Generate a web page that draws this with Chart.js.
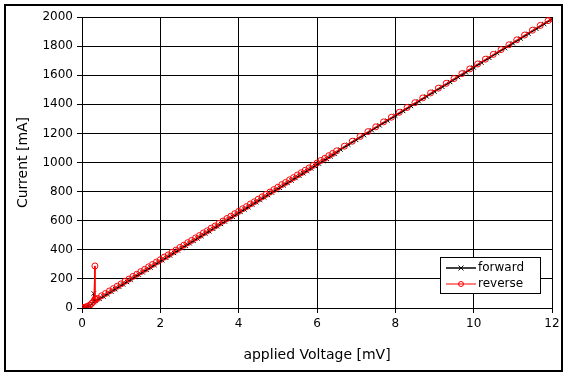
<!DOCTYPE html>
<html>
<head>
<meta charset="utf-8">
<script src="https://cdn.jsdelivr.net/npm/chart.js@4"></script>
<style>
  html, body { margin: 0; padding: 0; background: #fff; }
  #wrap { width: 569px; height: 378px; }
</style>
</head>
<body>
<div id="wrap"><canvas id="ivChart" width="569" height="378"></canvas></div>
<script>
// data
const seriesNames = ['forward', 'reverse'];
const xTicks = [0, 2, 4, 6, 8, 10, 12];
const yTicks = [0, 200, 400, 600, 800, 1000, 1200, 1400, 1600, 1800, 2000];

const fwdVoltage = [0, 0.05, 0.1, 0.15, 0.2, 0.25, 0.3, 0.3, 0.32, 0.35,
  0.45, 0.55, 0.65, 0.75, 0.85, 0.95, 1.05, 1.15, 1.25, 1.35,
  1.45, 1.55, 1.65, 1.75, 1.85, 1.95, 2.05, 2.15, 2.25, 2.35,
  2.45, 2.55, 2.65, 2.75, 2.85, 2.95, 3.05, 3.15, 3.25, 3.35,
  3.45, 3.55, 3.65, 3.75, 3.85, 3.95, 4.05, 4.15, 4.25, 4.35,
  4.45, 4.55, 4.65, 4.75, 4.85, 4.95, 5.05, 5.15, 5.25, 5.35,
  5.45, 5.55, 5.65, 5.75, 5.85, 5.95, 6.05, 6.15, 6.25, 6.35, 6.45,
  6.6, 6.8, 7.0, 7.2, 7.4, 7.6, 7.8, 8.0, 8.2, 8.4, 8.6, 8.8, 9.0, 9.2,
  9.4, 9.6, 9.8, 10.0, 10.2, 10.4, 10.6, 10.8, 11.0, 11.2, 11.4, 11.6, 11.8, 12.0];
const fwdCurrent = [0, 3, 6, 10, 17, 28, 40, 100, 48, 52,
  63, 79, 96, 112, 129, 146, 162, 179, 195, 212,
  229, 245, 262, 278, 295, 312, 328, 345, 361, 378,
  395, 411, 428, 444, 461, 478, 494, 511, 527, 544,
  561, 577, 594, 610, 627, 644, 660, 677, 693, 710,
  727, 743, 760, 776, 793, 810, 826, 843, 859, 876,
  893, 909, 926, 942, 959, 976, 992, 1009, 1025, 1042, 1059,
  1089, 1122, 1155, 1188, 1222, 1255, 1288, 1321, 1354, 1388, 1421, 1454, 1487, 1520,
  1553, 1587, 1620, 1653, 1686, 1719, 1753, 1786, 1819, 1852, 1885, 1919, 1952, 1985];

const revVoltage = [0, 0.05, 0.1, 0.15, 0.2, 0.25, 0.3, 0.33, 0.33, 0.35,
  0.4, 0.5, 0.6, 0.7, 0.8, 0.9, 1.0, 1.1, 1.2, 1.3,
  1.4, 1.5, 1.6, 1.7, 1.8, 1.9, 2.0, 2.1, 2.2, 2.3,
  2.4, 2.5, 2.6, 2.7, 2.8, 2.9, 3.0, 3.1, 3.2, 3.3,
  3.4, 3.5, 3.6, 3.7, 3.8, 3.9, 4.0, 4.1, 4.2, 4.3,
  4.4, 4.5, 4.6, 4.7, 4.8, 4.9, 5.0, 5.1, 5.2, 5.3,
  5.4, 5.5, 5.6, 5.7, 5.8, 5.9, 6.0, 6.1, 6.2, 6.3, 6.4, 6.5,
  6.7, 6.9, 7.1, 7.3, 7.5, 7.7, 7.9, 8.1, 8.3, 8.5, 8.7, 8.9, 9.1, 9.3,
  9.5, 9.7, 9.9, 10.1, 10.3, 10.5, 10.7, 10.9, 11.1, 11.3, 11.5, 11.7, 11.9, 12.0];
const revCurrent = [0, 4, 8, 12, 20, 32, 46, 289, 62, 58,
  66, 84, 100, 117, 133, 150, 166, 184, 199, 217,
  232, 250, 266, 283, 299, 316, 332, 350, 365, 383,
  398, 416, 432, 449, 465, 482, 498, 516, 531, 549,
  564, 582, 598, 615, 631, 648, 664, 682, 697, 715,
  730, 748, 764, 781, 797, 814, 830, 848, 863, 881,
  896, 914, 930, 947, 963, 980, 996, 1014, 1029, 1047, 1062, 1080,
  1112, 1146, 1179, 1212, 1245, 1279, 1311, 1345, 1378, 1411, 1444, 1478, 1511, 1544,
  1577, 1611, 1643, 1677, 1710, 1743, 1776, 1809, 1843, 1876, 1909, 1942, 1975, 1990];

function toPoints(xs, ys) {
    return xs.map(function (v, i) { return { x: v, y: ys[i] }; });
}

const fontFamily = '"DejaVu Sans", sans-serif';

// frame round the whole chart and the legend box inside the plot
const framePlugin = {
    id: 'frame',
    afterDraw: function (chart) {
        const ctx = chart.ctx;
        ctx.save();
        ctx.strokeStyle = '#000';
        ctx.lineWidth = 2;
        ctx.strokeRect(5, 5, 557, 366);

        // legend
        const lx = 440, ly = 257, lw = 100, lh = 36;
        ctx.fillStyle = '#fff';
        ctx.fillRect(lx, ly, lw, lh);
        ctx.lineWidth = 1;
        ctx.strokeRect(lx + 0.5, ly + 0.5, lw, lh);
        ctx.font = '12px ' + fontFamily;
        ctx.textBaseline = 'middle';
        chart.data.datasets.forEach(function (ds, i) {
            const y = ly + 11 + i * 16;
            ctx.strokeStyle = ds.borderColor;
            ctx.lineWidth = ds.borderWidth;
            ctx.beginPath();
            ctx.moveTo(lx + 6, y);
            ctx.lineTo(lx + 36, y);
            ctx.stroke();
            ctx.lineWidth = 1;
            ctx.beginPath();
            if (ds.pointStyle === 'circle') {
                ctx.arc(lx + 21, y, 2.5, 0, Math.PI * 2);
            } else {
                ctx.moveTo(lx + 18.5, y - 2.5); ctx.lineTo(lx + 23.5, y + 2.5);
                ctx.moveTo(lx + 23.5, y - 2.5); ctx.lineTo(lx + 18.5, y + 2.5);
            }
            ctx.stroke();
            ctx.fillStyle = '#000';
            ctx.fillText(ds.label, lx + 38, y);
        });
        ctx.restore();
    }
};

const ivChart = new Chart(document.getElementById('ivChart').getContext('2d'), {
    type: 'scatter',
    data: {
        datasets: [{
            label: seriesNames[0],
            data: toPoints(fwdVoltage, fwdCurrent),
            showLine: true,
            borderColor: '#000',
            backgroundColor: '#000',
            borderWidth: 1.5,
            pointStyle: 'crossRot',
            pointRadius: 3,
            pointBorderWidth: 1,
            order: 2
        }, {
            label: seriesNames[1],
            data: toPoints(revVoltage, revCurrent),
            showLine: true,
            borderColor: '#ff0000',
            backgroundColor: 'rgba(0,0,0,0)',
            borderWidth: 1,
            pointStyle: 'circle',
            pointRadius: 3,
            pointBorderWidth: 1,
            order: 1
        }]
    },
    options: {
        responsive: false,
        animation: false,
        layout: { padding: { left: 6, right: 17, top: 17, bottom: 6 } },
        plugins: {
            legend: { display: false },
            tooltip: { enabled: false }
        },
        scales: {
            x: {
                type: 'linear',
                min: 0,
                max: 12,
                afterBuildTicks: function (s) { s.ticks = xTicks.map(function (v) { return { value: v }; }); },
                afterFit: function (s) { s.height = 64; },
                grid: { color: '#000', lineWidth: 1, tickLength: 5 },
                border: { color: '#000', width: 1 },
                ticks: {
                    color: '#000', padding: 4, maxRotation: 0,
                    font: { family: fontFamily, size: 12 },
                    callback: function (v) { return String(v); }
                },
                title: {
                    display: true,
                    text: 'applied Voltage [mV]',
                    color: '#000',
                    font: { family: fontFamily, size: 14 },
                    padding: { top: 0, bottom: 8 }
                }
            },
            y: {
                min: 0,
                max: 2000,
                afterBuildTicks: function (s) { s.ticks = yTicks.map(function (v) { return { value: v }; }); },
                afterFit: function (s) { s.width = 76; },
                grid: { color: '#000', lineWidth: 1, tickLength: 5 },
                border: { color: '#000', width: 1 },
                ticks: {
                    color: '#000', padding: 4,
                    font: { family: fontFamily, size: 12 },
                    callback: function (v) { return String(v); }
                },
                title: {
                    display: true,
                    text: 'Current [mA]',
                    color: '#000',
                    font: { family: fontFamily, size: 14 },
                    padding: { top: 9, bottom: 0 }
                }
            }
        }
    },
    plugins: [framePlugin]
});
</script>
</body>
</html>
